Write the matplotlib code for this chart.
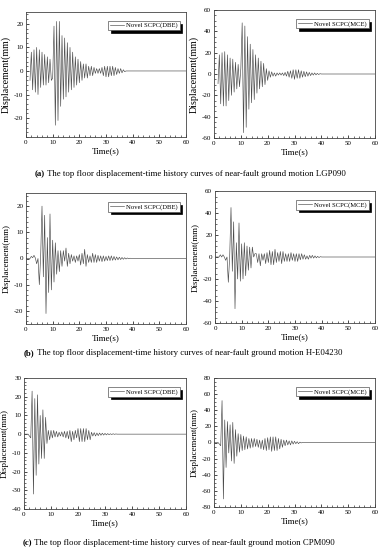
import numpy as np
import matplotlib
matplotlib.use('Agg')
import matplotlib.pyplot as plt

plt.rcParams['font.family'] = ['Liberation Serif', 'DejaVu Serif']
plt.rcParams['axes.unicode_minus'] = False

# peak values, one value every 0.5 s from t0
t0_1 = 1.5
d1 = [-4, 8, -8, 9, -9, 10, -10, 9, -7, 8, -6, 7, -6, 6, -5, 5, -4, -3,
      19, -23, 21, -21, 21, -15, 15, -12, 14, -11, 12, -9, 10, -8, 8, -7,
      6, -6, 5, -5, 4, -4, 3, -3, 3, -3, 2, -2, 2, -2, 1.5, -1, 1, -1, 1, -1,
      1.5, -2, 2, -2.5, 2, -2.5, 2, -2, 2, -2, 1.5, -1.5, 1, -1, 1, -0.8,
      0.5, -0.3, 0]

t0_2 = 1.5
d2 = [-9, 18, -28, 20, -30, 21, -30, 18, -25, 15, -20, 14, -17, 11, -14,
      9, -12, 5, 48, -55, 45, -50, 35, -33, 28, -27, 23, -24, 18, -18, 15,
      -14, 12, -12, 10, -10, 5, -6, 3, -3, 2, -2, 1, -2, 1, -1, 1, -1, 1,
      -1.5, 1.5, -2, 2.5, -3, 3, -4, 4, -5, 4, -4, 4, -4, 3, -3, 2.5, -2.5,
      2, -2, 1.5, -1.5, 1, -1, 1, -0.8, 0.6, -0.5, 0.3, 0]

t0_3 = 0.0
d3 = [0, 0, 0, 0, 0.8, 0.3, 1.2, 0.2, -2, 0, -10, 1, 20, -7, 16.5, -21,
      8, -13, 17, -12, 7, -9, 6, -6, 3, -5, 3, -3, 3, -1, 4, -3, 2, -2,
      1.5, -1, 1, -1.5, 1, -1, 1.5, -2.5, 2, -2, 3.5, -3, 1.5, -1.5, 1,
      -1.5, 2, -1.5, 1.5, -1.5, 1.2, -1, 1, -1.2, 1, -1, 0.8, -0.8, 1, -0.8,
      1, -0.7, 0.8, -0.6, 0.6, -0.5, 0.5, -0.4, 0.4, -0.3, 0.3, -0.2, 0.2,
      -0.1, 0.1, 0]

t0_4 = 0.0
d4 = [0, 0, 0, 0, 2, 0, 2, 0, -3, 0, -23, 0, 45, -13, 32, -47, 13, -20,
      31, -22, 12, -20, 13, -17, 10, -12, 9, -10, 9, 0, 3, 3, -5, 3, -8,
      3, -3, 3, -6, 4, -5, 6, -7, 5, -7, 7, -5, 4, -4, 5, -6, 5, -4, 3,
      -4, 3, -4, 4, -3, 3, -4, 3, -4, 3, -2.5, 3, -2, 2, -2, 1, -2, 1.5,
      -1, 1.5, -1, 1, -0.8, 0.6, -0.5, 0.3, 0]

t0_5 = 0.0
d5 = [0, 0, 0, 0, -1, -2, 23, -32, 19, -22, 21, -16, 10, -13, 13, -13,
      9, -5, 2, -3, 2, -2, 2, -1.5, 1.5, -1.5, 1, -1, 1.2, -1.5, 1.5, -2,
      1.5, -2.5, 2, -4, 1.5, -3, 2, -2, 3, -4, 3, -4, 3, -4, 3, -3, 2, -3,
      1, -1, 0.8, -1, 0.6, -0.8, 0.6, -0.6, 0.5, -0.5, 0.4, -0.4, 0.3,
      -0.3, 0.2, -0.2, 0.2, -0.1, 0.1, 0]

t0_6 = 0.0
d6 = [0, 0, 0, 0, -2, -4, 52, -70, 28, -31, 26, -13, 22, -23, 25, -26,
      16, -17, 11, -12, 10, -10, 8, -9, 7, -8, 5, -7, 5, -6, 5, -5, 4, -6,
      3, -8, 3, -9, 5, -10, 6, -9, 7, -11, 7, -10, 7, -10, 5, -8, 4, -6,
      3, -4, 3, -3, 2, -3, 2, -2, 1.5, -1.5, 1, -1.5, 0.5, -0.5, 0]

series = [(t0_1, d1), (t0_2, d2), (t0_3, d3), (t0_4, d4), (t0_5, d5), (t0_6, d6)]
labels = ['Novel SCPC(DBE)', 'Novel SCPC(MCE)'] * 3
ylims = [(-28, 25), (-60, 60), (-25, 25), (-60, 60), (-40, 30), (-80, 80)]
ysteps = [10, 20, 10, 20, 10, 20]
captions = [('(a)', ' The top floor displacement-time history curves of near-fault ground motion LGP090'),
            ('(b)', ' The top floor displacement-time history curves of near-fault ground motion H-E04230'),
            ('(c)', ' The top floor displacement-time history curves of near-fault ground motion CPM090')]

W, H = 386, 550
# axes boxes in pixels: left, top, right, bottom
boxes = [(26, 12, 186, 137), (214, 10, 375, 138),
         (26, 193, 186, 324), (215, 191, 375, 323),
         (24, 378, 186, 509), (214, 378, 375, 507)]
cap_pos = [(190, 174), (183, 353), (179, 543)]
ylab_size = [7.2, 7.2, 6.5, 6.5, 6.5, 6.5]

fig = plt.figure(figsize=(W / 100, H / 100), dpi=100)

for i, (t0, d) in enumerate(series):
    l, t, r, b = boxes[i]
    ax = fig.add_axes([l / W, 1 - b / H, (r - l) / W, (b - t) / H])
    tt = t0 + 0.5 * np.arange(len(d))
    tt = np.append(tt, 60)
    dd = np.append(d, 0)
    ax.plot(tt, dd, color='#4a4a4a', lw=0.45, label=labels[i])
    ax.set_xlim(0, 60)
    ax.set_ylim(*ylims[i])
    ax.set_xticks(np.arange(0, 61, 10))
    lo = int(np.ceil(ylims[i][0] / ysteps[i]) * ysteps[i])
    ax.set_yticks(np.arange(lo, ylims[i][1] + 1, ysteps[i]))
    ax.minorticks_on()
    ax.tick_params(which='both', direction='in', labelsize=5, top=False, right=False)
    ax.tick_params(which='major', length=2.5, width=0.5, pad=2)
    ax.tick_params(which='minor', length=1.5, width=0.4)
    for s in ax.spines.values():
        s.set_linewidth(0.6)
        s.set_color('#444444')
    ax.set_xlabel('Time(s)', fontsize=6.5, labelpad=2)
    ax.set_ylabel('Displacement(mm)', fontsize=ylab_size[i], labelpad=2)
    leg = ax.legend(loc='upper right', bbox_to_anchor=(0.96, 0.93), fontsize=4.8,
                    fancybox=False, shadow={'color': 'black', 'alpha': 1},
                    borderpad=0.25, handlelength=2.2, handletextpad=0.3,
                    borderaxespad=0)
    leg.get_frame().set_linewidth(0.5)
    leg.get_frame().set_edgecolor('#555555')

renderer = fig.canvas.get_renderer()
for (tag, rest), (cx, cy) in zip(captions, cap_pos):
    t1 = fig.text(0, 1 - cy / H, tag, fontsize=6.3, fontweight='bold', va='center')
    t2 = fig.text(0, 1 - cy / H, rest, fontsize=6.3, va='center')
    w1 = t1.get_window_extent(renderer).width
    w2 = t2.get_window_extent(renderer).width
    x0 = cx - (w1 + w2) / 2
    t1.set_x(x0 / W)
    t2.set_x((x0 + w1) / W)

fig.savefig('out.png', dpi=100)
